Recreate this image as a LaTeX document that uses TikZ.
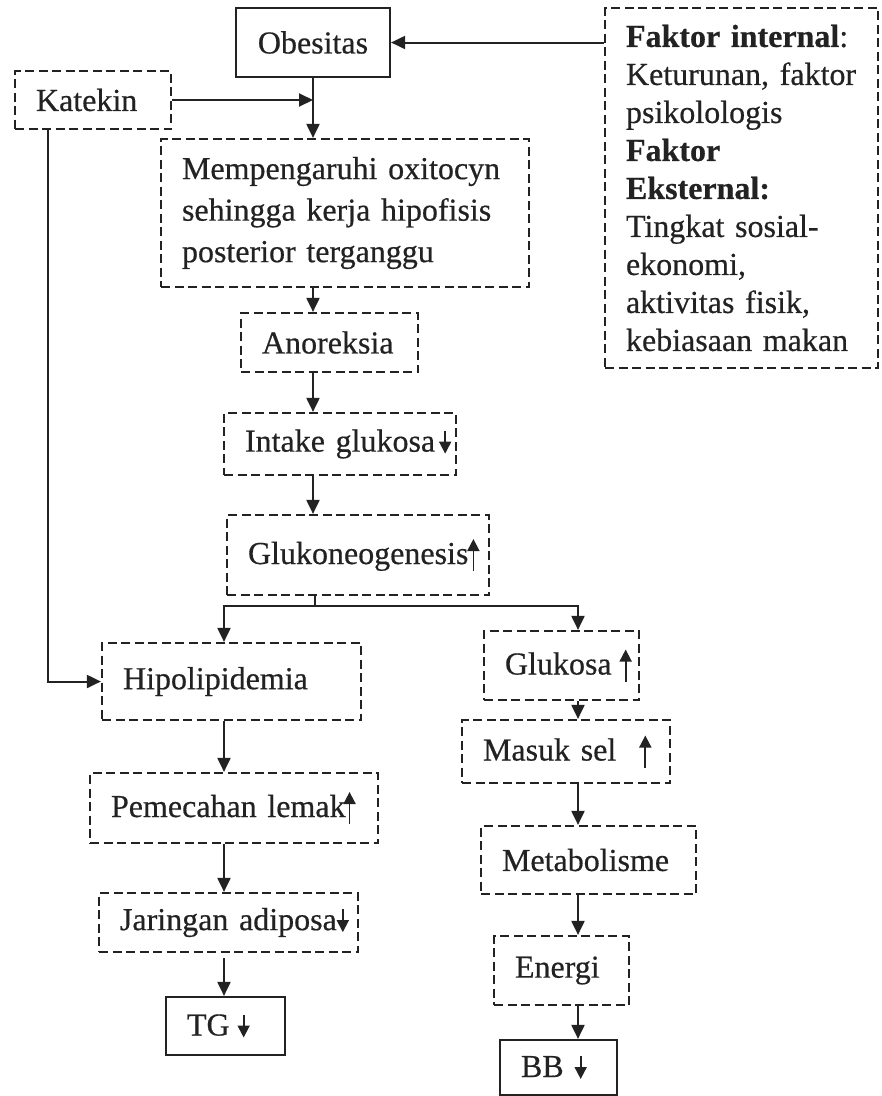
\documentclass[tikz,border=0pt]{standalone}
\usepackage{fontspec}
\setmainfont{Liberation Serif}[FakeBold=0.5]
\usetikzlibrary{arrows.meta}
\definecolor{tinta}{HTML}{222222}
\hyphenpenalty=10000
\exhyphenpenalty=10000
% small up / down marks written after a word
\newcommand{\naik}{\tikz[baseline=0pt,x=1pt,y=1pt]\draw[solid,line width=1.8pt,-{Triangle[length=12pt,width=12pt]}] (0,-7) -- (0,25);}
\newcommand{\turun}{\tikz[baseline=0pt,x=1pt,y=1pt]\draw[solid,line width=1.8pt,-{Triangle[length=12pt,width=12pt]}] (0,21) -- (0,-2);}

\begin{document}
\begin{tikzpicture}[x=1pt, y=-1pt, color=tinta, font=\fontsize{32}{38}\selectfont]
    \tikzset{
      dash box/.style={draw, dash pattern=on 9pt off 4.5pt, line width=2.2pt, align=left, inner xsep=21pt, inner ysep=0pt},
      line box/.style={draw, line width=2.2pt, align=left, inner xsep=21pt, inner ysep=0pt},
      flow arrow/.style={line width=2pt, -{Triangle[length=14pt,width=13pt]}}
    }
    \useasboundingbox (0,0) rectangle (882,1096);

    % Top row
    \node[line box, align=center, text width=112pt, minimum height=69pt] (obes) at (313,42.5) {Obesitas};
    \node[dash box, text width=231pt, minimum height=360pt] (faktor) at (741.5,188) {\textbf{Faktor internal}:\\ Keturunan, faktor\\ psikolologis\\ \textbf{Faktor}\\ \textbf{Eksternal:}\\ Tingkat sosial-\\ ekonomi,\\ aktivitas fisik,\\ kebiasaan makan};
    \node[dash box, text width=114pt, minimum height=58pt] (katekin) at (93,100) {Katekin};

    % Middle column
    \node[dash box, text width=326pt, minimum height=148pt, font=\fontsize{32}{41.5}\selectfont] (mempeng) at (345,213) {Mempengaruhi oxitocyn\\ sehingga kerja hipofisis\\ posterior terganggu};
    \node[dash box, text width=135pt, minimum height=59pt] (anor) at (329.5,342.5) {Anoreksia};
    \node[dash box, text width=190pt, minimum height=62pt] (intake) at (340,444) {\mbox{Intake glukosa\hspace{4pt}\turun}};
    \node[dash box, text width=220pt, minimum height=80pt] (gluko) at (358,555) {\mbox{Glukoneogenesis\hspace{-1pt}\naik}};

    % Left branch
    \node[dash box, text width=217pt, minimum height=77pt] (hipo) at (231.5,681.5) {Hipolipidemia};
    \node[dash box, text width=246pt, minimum height=70pt] (pemecahan) at (234,808) {\mbox{Pemecahan lemak\hspace{-2pt}\naik}};
    \node[dash box, text width=217pt, minimum height=59pt] (jaringan) at (228.5,922.5) {\mbox{Jaringan adiposa\turun}};
    \node[line box, text width=77pt, minimum height=58pt] (tg) at (225.5,1026) {\mbox{TG\hspace{8pt}\turun}};

    % Right branch
    \node[dash box, text width=113pt, minimum height=69pt] (glukosa) at (561.5,665.5) {\mbox{Glukosa\hspace{8pt}\naik}};
    \node[dash box, text width=166pt, minimum height=63pt] (masuk) at (566,751.5) {\mbox{Masuk sel\hspace{23pt}\naik}};
    \node[dash box, text width=173pt, minimum height=68pt] (metab) at (588.5,860) {Metabolisme};
    \node[dash box, text width=93pt, minimum height=69pt] (energi) at (561.5,970.5) {Energi};
    \node[line box, text width=75pt, minimum height=55pt] (bb) at (558.5,1067.5) {\mbox{BB\hspace{11pt}\turun}};

    % Columns of the two branches
    \coordinate (kiri) at (224,0);
    \coordinate (kanan) at (578,0);
    \coordinate (cabang) at (315,606);

    % Connectors at the top
    \draw[flow arrow] (obes.east -| faktor.west) -- (obes.east);
    \draw[flow arrow] (katekin.east) -- (katekin.east -| obes.south);
    \draw[flow arrow] (obes.south) -- (obes.south |- mempeng.north);
    \draw[flow arrow] ([xshift=-45pt]katekin.south) |- (hipo.west);

    % Middle column
    \draw[flow arrow] (mempeng.south -| obes.south) -- (anor.north -| obes.south);
    \draw[flow arrow] (anor.south -| obes.south) -- (intake.north -| obes.south);
    \draw[flow arrow] (intake.south -| obes.south) -- (gluko.north -| obes.south);
    \draw[line width=2pt] (gluko.south -| cabang) -- (cabang);
    \draw[flow arrow] (cabang) -| (hipo.north -| kiri);
    \draw[flow arrow] (cabang) -| (glukosa.north -| kanan);

    % Left branch
    \draw[flow arrow] (hipo.south -| kiri) -- (pemecahan.north -| kiri);
    \draw[flow arrow] (pemecahan.south -| kiri) -- (jaringan.north -| kiri);
    \draw[flow arrow] ([yshift=-5pt]jaringan.south -| kiri) -- (tg.north -| kiri);

    % Right branch
    \draw[flow arrow] (glukosa.south -| kanan) -- (masuk.north -| kanan);
    \draw[flow arrow] (masuk.south -| kanan) -- (metab.north -| kanan);
    \draw[flow arrow] (metab.south -| kanan) -- (energi.north -| kanan);
    \draw[flow arrow] (energi.south -| kanan) -- (bb.north -| kanan);
\end{tikzpicture}
\end{document}
